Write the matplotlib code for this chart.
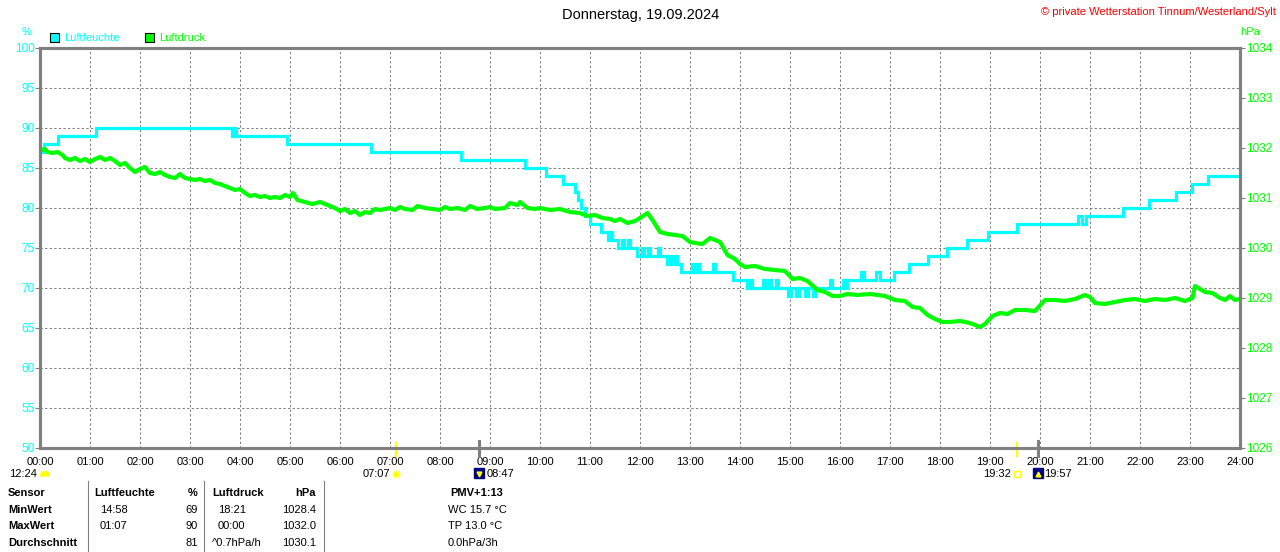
import numpy as np
import matplotlib
matplotlib.use("Agg")
import matplotlib.pyplot as plt
from matplotlib import transforms
from matplotlib.patches import Wedge, Rectangle

plt.rcParams['font.family'] = ['Liberation Sans', 'DejaVu Sans']
plt.rcParams['font.size'] = 8

# ---- daten ----
titel = "Donnerstag, 19.09.2024"
copyright_txt = "© private Wetterstation Tinnum/Westerland/Sylt"
stunden_labels = ["%02d:00" % h for h in range(25)]

# Luftfeuchte (stufen): zeit [h], wert [%]
feuchte_t = [0.00, 0.08, 0.36, 1.12, 3.84, 3.88, 3.92, 4.94, 6.62, 8.42, 9.70, 10.12,
             10.46, 10.70, 10.76, 10.82, 10.90, 11.00, 11.22, 11.36, 11.40, 11.44, 11.56,
             11.64, 11.68, 11.76, 11.80, 11.94, 12.04, 12.08, 12.16, 12.20, 12.36, 12.40,
             12.54, 12.60, 12.64, 12.70, 12.74, 12.82, 13.04, 13.08, 13.14, 13.18, 13.46,
             13.50, 13.86, 14.14, 14.20, 14.24, 14.46, 14.50, 14.58, 14.62, 14.72, 14.76,
             14.96, 15.02, 15.12, 15.18, 15.30, 15.36, 15.46, 15.50, 15.80, 15.84, 16.06,
             16.10, 16.14, 16.42, 16.48, 16.72, 16.80, 17.07, 17.37, 17.76, 18.14, 18.54,
             18.96, 19.54, 20.76, 20.84, 20.92, 21.66, 22.18, 22.72, 23.04, 23.36, 24.00]
feuchte_v = [87, 88, 89, 90, 89, 90, 89, 88, 87, 86, 85, 84,
             83, 82, 81, 80, 79, 78, 77, 76, 77, 76, 75,
             76, 75, 76, 75, 74, 75, 74, 75, 74, 75, 74,
             73, 74, 73, 74, 73, 72, 73, 72, 73, 72, 73,
             72, 71, 70, 71, 70, 71, 70, 71, 70, 71, 70,
             69, 70, 69, 70, 69, 70, 69, 70, 71, 70, 71,
             70, 71, 72, 71, 72, 71, 72, 73, 74, 75, 76,
             77, 78, 79, 78, 79, 80, 81, 82, 83, 84, 84]

# Luftdruck: zeit [h], wert [hPa]
druck_t = [0.00, 0.05, 0.10, 0.15, 0.25, 0.35, 0.45, 0.50, 0.60, 0.70, 0.80, 0.90,
           1.00, 1.10, 1.20, 1.30, 1.40, 1.50, 1.60, 1.70, 1.80, 1.90, 2.00, 2.10,
           2.20, 2.30, 2.40, 2.50, 2.60, 2.70, 2.80, 2.90, 3.00, 3.10, 3.20, 3.30,
           3.40, 3.50, 3.60, 3.70, 3.80, 3.90, 4.00, 4.10, 4.20, 4.30, 4.40, 4.50,
           4.60, 4.70, 4.80, 4.90, 5.00, 5.06, 5.15, 5.30, 5.45, 5.60, 5.75, 5.90,
           6.00, 6.10, 6.20, 6.30, 6.40, 6.50, 6.60, 6.70, 6.80, 7.00, 7.10, 7.20,
           7.30, 7.45, 7.55, 7.70, 7.85, 8.00, 8.10, 8.20, 8.35, 8.50, 8.60, 8.75,
           8.90, 9.00, 9.10, 9.30, 9.40, 9.55, 9.60, 9.75, 9.90, 10.00, 10.20, 10.40,
           10.60, 10.80, 10.95, 11.10, 11.25, 11.40, 11.50, 11.60, 11.75, 11.90, 12.00,
           12.15, 12.25, 12.40, 12.55, 12.70, 12.85, 13.00, 13.10, 13.25, 13.40, 13.50,
           13.60, 13.75, 13.90, 14.00, 14.10, 14.30, 14.50, 14.70, 14.90, 15.05, 15.20,
           15.35, 15.55, 15.70, 15.85, 16.00, 16.15, 16.35, 16.60, 16.90, 17.10, 17.30,
           17.45, 17.60, 17.75, 17.90, 18.05, 18.20, 18.40, 18.60, 18.80, 18.90, 19.05,
           19.20, 19.35, 19.50, 19.70, 19.90, 20.10, 20.30, 20.50, 20.70, 20.90, 21.00,
           21.10, 21.30, 21.50, 21.70, 21.90, 22.10, 22.30, 22.50, 22.70, 22.90, 23.05,
           23.10, 23.20, 23.30, 23.45, 23.60, 23.70, 23.80, 23.90, 24.00]
druck_v = [1032.00, 1031.96, 1031.98, 1031.92, 1031.90, 1031.92, 1031.86, 1031.80,
           1031.76, 1031.80, 1031.74, 1031.78, 1031.72, 1031.78, 1031.82, 1031.76,
           1031.80, 1031.74, 1031.66, 1031.70, 1031.60, 1031.52, 1031.58, 1031.62,
           1031.50, 1031.48, 1031.52, 1031.46, 1031.42, 1031.40, 1031.48, 1031.40,
           1031.38, 1031.36, 1031.38, 1031.34, 1031.36, 1031.30, 1031.28, 1031.24,
           1031.20, 1031.16, 1031.18, 1031.10, 1031.04, 1031.06, 1031.02, 1031.04,
           1031.00, 1031.02, 1031.00, 1031.06, 1031.02, 1031.10, 1030.96, 1030.92,
           1030.88, 1030.92, 1030.86, 1030.80, 1030.74, 1030.78, 1030.70, 1030.74,
           1030.66, 1030.72, 1030.70, 1030.78, 1030.76, 1030.80, 1030.76, 1030.82,
           1030.78, 1030.76, 1030.84, 1030.80, 1030.78, 1030.76, 1030.82, 1030.78,
           1030.80, 1030.76, 1030.84, 1030.78, 1030.80, 1030.82, 1030.78, 1030.80,
           1030.90, 1030.86, 1030.92, 1030.80, 1030.78, 1030.80, 1030.76, 1030.78,
           1030.72, 1030.70, 1030.64, 1030.66, 1030.60, 1030.58, 1030.54, 1030.58,
           1030.50, 1030.54, 1030.60, 1030.70, 1030.56, 1030.32, 1030.28, 1030.26,
           1030.24, 1030.12, 1030.10, 1030.08, 1030.20, 1030.16, 1030.12, 1029.86,
           1029.78, 1029.68, 1029.62, 1029.64, 1029.58, 1029.56, 1029.54, 1029.38,
           1029.40, 1029.34, 1029.16, 1029.12, 1029.04, 1029.04, 1029.08, 1029.06,
           1029.08, 1029.04, 1028.96, 1028.94, 1028.82, 1028.80, 1028.66, 1028.58,
           1028.52, 1028.52, 1028.54, 1028.50, 1028.42, 1028.48, 1028.64, 1028.70,
           1028.68, 1028.76, 1028.76, 1028.74, 1028.96, 1028.96, 1028.94, 1028.98,
           1029.06, 1029.02, 1028.90, 1028.88, 1028.92, 1028.96, 1028.98, 1028.94,
           1028.98, 1028.96, 1029.00, 1028.94, 1029.00, 1029.24, 1029.18, 1029.12,
           1029.10, 1029.00, 1028.96, 1029.04, 1028.96, 1028.98]

# Sonne / Mond
tageslaenge = "12:24"
sonne_zeiten = ["07:07", "19:32"]
mond_zeiten = ["08:47", "19:57"]

# Tabelle unten
tab_zeilen = ["Sensor", "MinWert", "MaxWert", "Durchschnitt"]
feuchte_zeit = ["", "14:58", "01:07", ""]
feuchte_wert = ["%", "69", "90", "81"]
druck_zeit = ["", "18:21", "00:00", "^0.7hPa/h"]
druck_wert = ["hPa", "1028.4", "1032.0", "1030.1"]
extra = ["PMV+1:13", "WC 15.7 °C", "TP 13.0 °C", "0.0hPa/3h"]

CYAN = '#00FFFF'
GRUEN = '#00FF00'
GRAU = '#808080'

def zu_stunden(s):
    hh, mm = s.split(":")
    return int(hh) + int(mm) / 60.0

W, H = 1280, 552
fig = plt.figure(figsize=(W / 100, H / 100), dpi=100)
ax = fig.add_axes([40 / W, (H - 448) / H, 1200 / W, 400 / H])
ax.set_xlim(0, 24)
ax.set_ylim(50, 100)
ax2 = ax.twinx()
ax2.set_ylim(1026, 1034)

ax.set_xticks(range(25))
ax.set_xticklabels(stunden_labels)
ax.set_yticks(range(50, 101, 5))
ax.grid(True, color=GRAU, linestyle=(0, (2.2, 2.2)), linewidth=0.75)
ax.tick_params(axis='x', length=0, pad=6.5, labelsize=8, labelcolor='black')
ax.tick_params(axis='y', length=3.5, width=0.8, color=GRAU, pad=0.5,
               labelsize=8.5, labelcolor=CYAN)
ax2.set_yticks(range(1026, 1035))
ax2.tick_params(axis='y', length=3.5, width=0.8, color=GRAU, pad=1,
                labelsize=8.5, labelcolor=GRUEN)
for a in (ax, ax2):
    for sp in a.spines.values():
        sp.set_color(GRAU)
        sp.set_linewidth(2.2)

ax.plot(feuchte_t, feuchte_v, drawstyle='steps-post', color=CYAN, lw=2.3,
        solid_joinstyle='miter')
ax2.plot(druck_t, druck_v, color=GRUEN, lw=3.0)

# overlay in pixeln
ov = fig.add_axes([0, 0, 1, 1], zorder=5)
ov.set_xlim(0, W)
ov.set_ylim(H, 0)
ov.axis('off')
ov.patch.set_alpha(0)

ov.text(641, 15, titel, ha='center', va='center', fontsize=10.5)
ov.text(1276, 12, copyright_txt, ha='right', va='center', color='#FF0000', fontsize=8)
ov.text(27, 32, "%", ha='center', va='center', color=CYAN, fontsize=8)
ov.text(1250, 32, "hPa", ha='center', va='center', color=GRUEN, fontsize=8)

# legende
ov.add_patch(Rectangle((50, 33), 9, 9, facecolor=CYAN, edgecolor='black', lw=0.8))
ov.text(64, 38, "Luftfeuchte", ha='left', va='center', color=CYAN, fontsize=8)
ov.add_patch(Rectangle((145, 33), 9, 9, facecolor=GRUEN, edgecolor='black', lw=0.8))
ov.text(159, 38, "Luftdruck", ha='left', va='center', color=GRUEN, fontsize=8)

# sonne und mond
blend = transforms.blended_transform_factory(ax.transData, ov.transData)
rechts = transforms.offset_copy(blend, fig=fig, x=7, y=0, units='dots')
links = transforms.offset_copy(blend, fig=fig, x=-6, y=0, units='dots')
for s in sonne_zeiten:
    t = zu_stunden(s)
    ax.plot([t, t], [443, 456], color='#FFFF00', lw=1.6, transform=blend, clip_on=False)
    ov.text(t, 474, s, ha='right', va='center', fontsize=8, transform=links)
ax.plot([zu_stunden(sonne_zeiten[0])], [474], 'o', ms=5, color='#FFFF00',
        mec='#FFFF80', transform=blend, clip_on=False)
ax.plot([zu_stunden(sonne_zeiten[1])], [474], 's', ms=4.5, mfc='white',
        mec='#FFFF00', mew=1, transform=blend, clip_on=False)
for i, s in enumerate(mond_zeiten):
    t = zu_stunden(s)
    ax.plot([t, t], [441, 456], color=GRAU, lw=2.2, transform=blend, clip_on=False)
    ax.plot([t], [473], 's', ms=7, color='#000080', transform=blend, clip_on=False)
    ax.plot([t], [474], 'v' if i == 0 else '^', ms=3.5, color='#FFFF00',
            transform=blend, clip_on=False)
    ov.text(t, 474, s, ha='left', va='center', fontsize=8, transform=rechts)
ov.text(37, 474, tageslaenge, ha='right', va='center', fontsize=8)
ov.add_patch(Wedge((45, 476), 4.5, 180, 360, color='#FFFF00'))

# tabelle
for xs in (88, 204, 324):
    ov.plot([xs, xs], [481, 552], color=GRAU, lw=0.8)
zeilen_y = [493, 510, 526, 543]
for i, y in enumerate(zeilen_y):
    kopf = 'bold' if i == 0 else 'normal'
    ov.text(8, y, tab_zeilen[i], ha='left', va='center', fontweight='bold')
    if i == 0:
        ov.text(94, y, "Luftfeuchte", ha='left', va='center', fontweight='bold')
        ov.text(212, y, "Luftdruck", ha='left', va='center', fontweight='bold')
    else:
        ov.text(100, y, feuchte_zeit[i], ha='left', va='center')
        ov.text(212 if druck_zeit[i].startswith('^') else 218, y, druck_zeit[i],
                ha='left', va='center')
    ov.text(198, y, feuchte_wert[i], ha='right', va='center', fontweight=kopf)
    ov.text(316, y, druck_wert[i], ha='right', va='center', fontweight=kopf)
    if i == 0:
        ov.text(477, y, extra[i], ha='center', va='center', fontweight='bold')
    else:
        ov.text(448, y, extra[i], ha='left', va='center')

fig.savefig("out.png", dpi=100)
